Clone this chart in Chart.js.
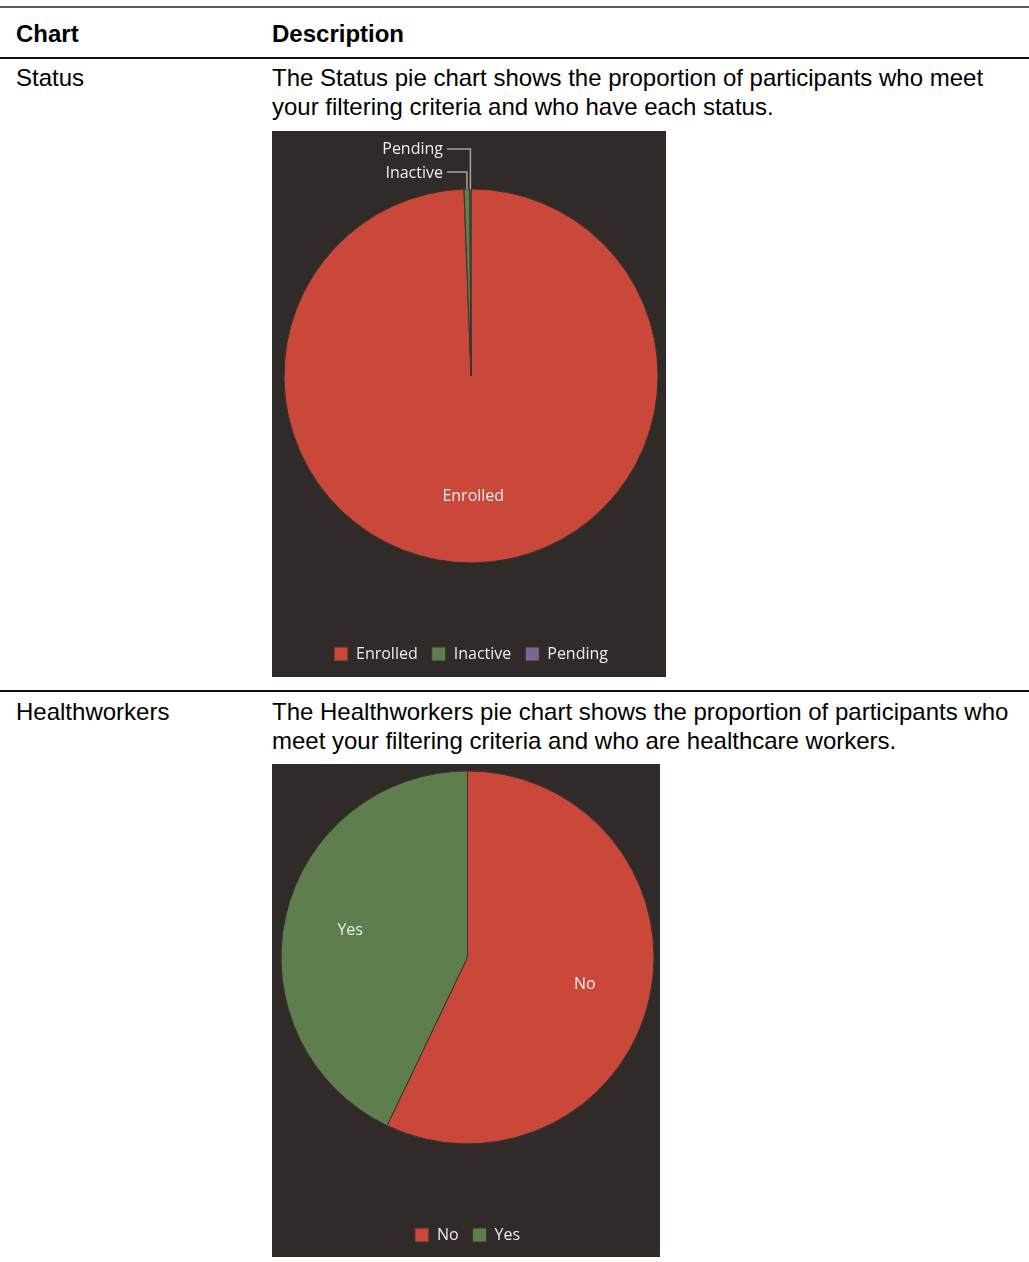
<!DOCTYPE html>
<html>
<head>
<meta charset="utf-8">
<script src="https://cdn.jsdelivr.net/npm/chart.js@4/dist/chart.umd.min.js"></script>
<style>
  html, body { margin: 0; padding: 0; background: #ffffff; }
  body { width: 1029px; height: 1262px; position: relative; font-family: "Liberation Sans", Arial, sans-serif; color: #000; overflow: hidden; }
  .rule { position: absolute; left: 0; width: 1029px; }
  .txt { position: absolute; font-size: 24px; line-height: 29px; white-space: nowrap; }
  .hd { font-weight: bold; }
  .box { position: absolute; background: #302a28; }
  canvas { display: block; }
</style>
</head>
<body>
<div class="rule" style="top:6px;height:2px;background:#5a5a5a;"></div>
<div class="txt hd" style="left:16px;top:19px;">Chart</div>
<div class="txt hd" style="left:272px;top:19px;">Description</div>
<div class="rule" style="top:57px;height:2px;background:#111;"></div>

<div class="txt" style="left:16px;top:63px;">Status</div>
<div class="txt" style="left:272px;top:63px;">The Status pie chart shows the proportion of participants who meet<br>your filtering criteria and who have each status.</div>
<div class="box" style="left:272px;top:131px;width:394px;height:546px;"><canvas id="c1" width="394" height="546"></canvas></div>

<div class="rule" style="top:690px;height:2px;background:#111;"></div>
<div class="txt" style="left:16px;top:697px;">Healthworkers</div>
<div class="txt" style="left:272px;top:697px;">The Healthworkers pie chart shows the proportion of participants who<br>meet your filtering criteria and who are healthcare workers.</div>
<div class="box" style="left:272px;top:764px;width:388px;height:493px;"><canvas id="c2" width="388" height="493"></canvas></div>

<script>
const statusLabels = ["Enrolled", "Inactive", "Pending"];
const statusValues = [99.4, 0.5, 0.1];
const healthLabels = ["No", "Yes"];
const healthValues = [57.1, 42.9];

const RED = "#c9483a";
const GREEN = "#5f7e4d";
const PURPLE = "#7c6592";
const BG = "#302a28";
const TEXT = "#ececec";
const FONT = "'Open Sans', 'Noto Sans', sans-serif";

const sliceLabels = {
  id: "sliceLabels",
  afterDatasetsDraw(chart) {
    const ctx = chart.ctx;
    const meta = chart.getDatasetMeta(0);
    const labels = chart.data.labels;
    const total = chart.data.datasets[0].data.reduce((a, b) => a + b, 0);
    ctx.save();
    ctx.font = "16px " + FONT;
    ctx.fillStyle = TEXT;
    ctx.textBaseline = "middle";
    let smallIdx = 0;
    meta.data.forEach((arc, i) => {
      const v = chart.data.datasets[0].data[i];
      const mid = (arc.startAngle + arc.endAngle) / 2;
      const cx = arc.x, cy = arc.y, r = arc.outerRadius;
      if (v / total > 0.05) {
        ctx.textAlign = "center";
        ctx.fillText(labels[i], cx + Math.cos(mid) * r * 0.645, cy + Math.sin(mid) * r * 0.645);
      } else {
        const ax = cx + Math.cos(mid) * r;
        const ay = cy + Math.sin(mid) * r;
        const levelY = ay - 17 - smallIdx * 23;
        const lineStart = cx - 24;
        ctx.strokeStyle = "#a2a2a2";
        ctx.lineWidth = 1.5;
        ctx.beginPath();
        ctx.moveTo(ax, ay);
        ctx.lineTo(ax, levelY);
        ctx.lineTo(lineStart, levelY);
        ctx.stroke();
        ctx.textAlign = "right";
        ctx.fillText(labels[i], lineStart - 4, levelY + 1);
        smallIdx++;
      }
    });
    ctx.restore();
  }
};

function makePie(id, labels, values, colors, opts) {
  return new Chart(document.getElementById(id), {
    type: "pie",
    data: {
      labels: labels,
      datasets: [{
        data: values,
        backgroundColor: colors,
        borderColor: "#3a3230",
        borderWidth: 1,
        radius: opts.radius,
        hoverOffset: 0
      }]
    },
    options: {
      responsive: false,
      animation: false,
      devicePixelRatio: 1,
      layout: { padding: opts.padding },
      plugins: {
        tooltip: { enabled: false },
        legend: {
          position: "bottom",
          title: { display: true, text: " ", padding: { top: opts.titlePad, bottom: 0 }, font: { size: 1 } },
          labels: {
            color: TEXT,
            boxWidth: 14,
            boxHeight: 14,
            padding: 14,
            font: { family: FONT, size: 16 }
          }
        }
      }
    },
    plugins: [sliceLabels]
  });
}

makePie("c1", statusLabels, statusValues, [RED, GREEN, PURPLE],
  { radius: 187, padding: { left: 4, right: 0, top: 0, bottom: 5 }, titlePad: 10 });
makePie("c2", healthLabels, healthValues, [RED, GREEN],
  { radius: 186.5, padding: { left: 3, right: 0, top: 0, bottom: 4 }, titlePad: 61 });
</script>
</body>
</html>
